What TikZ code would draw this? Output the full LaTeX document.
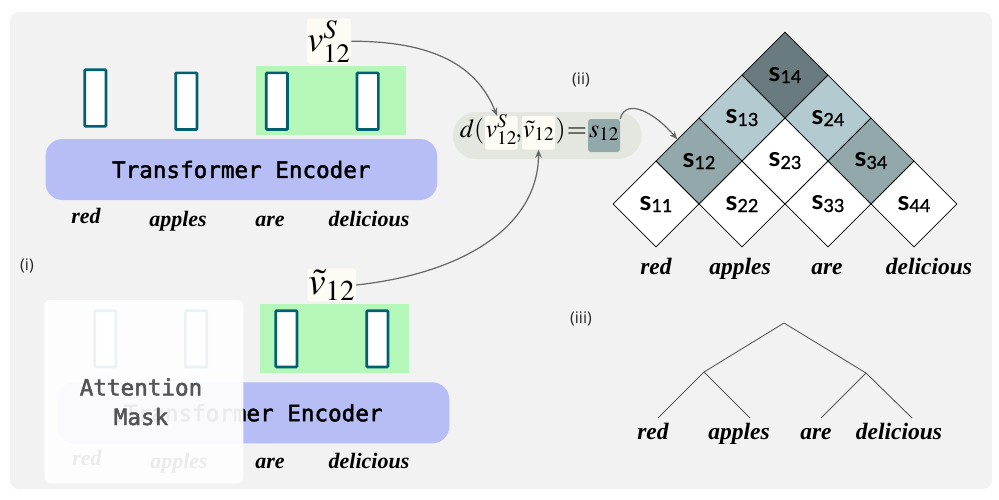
\documentclass[tikz,border=0pt]{standalone}
\usepackage{mathptmx}
\usepackage{fontspec}
\setmainfont{Liberation Serif}
\newfontfamily\monofont[FakeBold=2]{DejaVu Sans Mono}
\newfontfamily\labfont{Open Sans}
\newfontfamily\cellfont{Lato}
\newfontfamily\celldigfont[FakeBold=1.2]{Lato}
\usetikzlibrary{arrows.meta,shapes.geometric}
\definecolor{bggray}{HTML}{F2F2F2}
\definecolor{encblue}{HTML}{B6BEF5}
\definecolor{vgreen}{HTML}{B5F7B8}
\definecolor{vteal}{HTML}{006070}
\definecolor{cream}{HTML}{FDFBF3}
\definecolor{pillgray}{HTML}{E3E7DF}
\definecolor{cdark}{HTML}{6A7B7F}
\definecolor{cmid}{HTML}{93A8AB}
\definecolor{clight}{HTML}{B3CAD1}
\definecolor{arrgray}{HTML}{666666}
\definecolor{treegray}{HTML}{5A5A5A}
\newcommand\cellsij[1]{{\cellfont\fontsize{27}{27}\selectfont\bfseries s}{\celldigfont\fontsize{18}{18}\selectfont\raisebox{-2pt}{#1}}}
\tikzset{
  enc/.style={rectangle, rounded corners=17pt, fill=encblue, minimum width=391.6pt, minimum height=61pt, inner sep=0pt, font=\monofont\fontsize{22.6}{24}\selectfont},
  vecbox/.style={rectangle, draw=vteal, fill=white, line width=2.7pt, minimum width=21.3pt, minimum height=56.7pt, inner sep=0pt, rounded corners=1pt},
  greenbox/.style={rectangle, fill=vgreen, inner sep=0pt},
  word/.style={anchor=base, inner sep=0pt, font=\bfseries\itshape\fontsize{22}{24}\selectfont},
  bigword/.style={anchor=base, inner sep=0pt, font=\bfseries\itshape\fontsize{23.5}{26}\selectfont},
  veclabel/.style={rectangle, fill=cream, rounded corners=3pt, inner sep=0pt},
  hl/.style={rectangle, fill=cream, rounded corners=2pt, inner sep=0pt, anchor=base, font=\fontsize{26}{30}\selectfont},
  ftext/.style={inner sep=0pt, font=\fontsize{26}{30}\selectfont},
  cell/.style={diamond, aspect=1, draw=black, line width=0.8pt, minimum width=86pt, minimum height=86pt, inner sep=0pt},
  arr/.style={draw=arrgray, line width=1.2pt, -{Stealth[length=8pt,width=6.5pt]}},
  treeline/.style={draw=treegray, line width=0.9pt},
  partlabel/.style={inner sep=0pt, font=\labfont\fontsize{16}{18}\selectfont, text=black!85}
}
\begin{document}
\begin{tikzpicture}[x=1pt,y=-1pt]
\useasboundingbox (0,0) rectangle (999,499);
\fill[white] (0,0) rectangle (999,499);
\fill[bggray, rounded corners=9pt] (10,12) rectangle (992,489);

% ---------- top encoder ----------
\node[greenbox, minimum width=149.7pt, minimum height=69.3pt] (g1) at (330.85,100.35) {};
\node[vecbox] (t1) at (95.3,98) {};
\node[vecbox] (t2) at (186.3,101.2) {};
\node[vecbox] (t3) at (276.9,101.2) {};
\node[vecbox] (t4) at (367.7,101.2) {};
\node[enc] (enc1) at (241.3,169.5) {Transformer Encoder};
\node[word] (w1a) at (86,223) {red};
\node[word] (w1b) at (178,226.5) {apples};
\node[word] (w1c) at (270,226.5) {are};
\node[word] (w1d) at (369,226.5) {delicious};
\node[veclabel, minimum width=44.3pt, minimum height=45.7pt, font=\fontsize{36}{40}\selectfont] (vs) at (329,41.2) {$v^{S}_{12}$};

% ---------- bottom encoder ----------
\node[greenbox, minimum width=149.3pt, minimum height=68.7pt] (g2) at (334.65,338.35) {};
\node[vecbox, minimum height=56.3pt] (b1) at (105.3,338.8) {};
\node[vecbox, minimum height=56.3pt] (b2) at (196,338.8) {};
\node[vecbox, minimum height=56.3pt] (b3) at (286.3,338.8) {};
\node[vecbox, minimum height=56.3pt] (b4) at (377.3,338.8) {};
\node[enc, minimum width=392pt] (enc2) at (253.3,412.8) {Transformer Encoder};
\node[word] (w2a) at (87,465) {red};
\node[word] (w2b) at (179,468) {apples};
\node[word] (w2c) at (270,468) {are};
\node[word] (w2d) at (369,468) {delicious};
\node[rectangle, fill=white, fill opacity=0.92, rounded corners=6pt, minimum width=199pt, minimum height=183.3pt, inner sep=0pt] (mask) at (143.8,391.65) {};
\node[inner sep=0pt, align=center, text=black!67, font=\monofont\fontsize{22.6}{29.5}\selectfont, anchor=base] (masktxt) at (141,425) {Attention\\Mask};
\node[veclabel, minimum width=48.7pt, minimum height=33.4pt, font=\fontsize{39}{42}\selectfont] (vt) at (331.7,285) {$\tilde{v}_{12}$};

\node[partlabel] (pi) at (27,266) {(i)};
\node[partlabel] (pii) at (581,80) {(ii)};
\node[partlabel] (piii) at (581,319) {(iii)};

% ---------- formula ----------
\node[rectangle, fill=pillgray, rounded corners=23.5pt, minimum width=189pt, minimum height=47pt, inner sep=0pt] (pill) at (547.2,135.5) {};
\node[ftext, anchor=base east] (fd) at (484.5,137) {$d($};
\node[hl, text height=21pt, text depth=12.5pt, minimum width=32.5pt] (fv) at (501.3,137) {$v^{S}_{12}$};
\node[ftext, anchor=base] (fc) at (518.8,137) {$,$};
\node[hl, text height=21pt, text depth=12.5pt, minimum width=33pt] (ft) at (538.5,137) {$\tilde{v}_{12}$};
\node[ftext, anchor=base west] (fp) at (555.5,137) {$)$};
\node[ftext, anchor=base] (fe) at (577,137) {$=$};
\node[rectangle, fill=cmid, rounded corners=3pt, inner sep=0pt, anchor=base, text height=18pt, text depth=15pt, minimum width=32pt, font=\fontsize{26}{30}\selectfont] (fs) at (604,137) {$s_{12}$};

% ---------- chart ----------
\node[cell, fill=white] (c11) at (656,204) {\cellsij{11}};
\node[cell, fill=white] (c22) at (742,204) {\cellsij{22}};
\node[cell, fill=white] (c33) at (828,204) {\cellsij{33}};
\node[cell, fill=white] (c44) at (914,204) {\cellsij{44}};
\node[cell, fill=cmid] (c12) at (699,161) {\cellsij{12}};
\node[cell, fill=white] (c23) at (785,161) {\cellsij{23}};
\node[cell, fill=cmid] (c34) at (871,161) {\cellsij{34}};
\node[cell, fill=clight] (c13) at (742,118) {\cellsij{13}};
\node[cell, fill=clight] (c24) at (828,118) {\cellsij{24}};
\node[cell, fill=cdark] (c14) at (785,75) {\cellsij{14}};
\node[bigword] (cw1) at (656,274) {red};
\node[bigword] (cw2) at (740,274) {apples};
\node[bigword] (cw3) at (827,274) {are};
\node[bigword] (cw4) at (929,274) {delicious};

% ---------- arrows ----------
\draw[arr] (vs.east) .. controls +(90,0) and +(-18,-45) .. (fv.north -| 497,0);
\draw[arr] (vt.east) .. controls +(110,-12) and +(0,75) .. (ft.south);
\draw[arr] (fs.north east) .. controls +(6,-22) and +(-22,-26) .. (c12.north west);

% ---------- tree ----------
\coordinate (root) at (784,323);
\coordinate (tl) at (704,372);
\coordinate (tr) at (866,373);
\coordinate (l1) at (658,418);
\coordinate (l2) at (750,418);
\coordinate (l3) at (821,418);
\coordinate (l4) at (912,418);
\draw[treeline] (root) -- (tl) -- (l1);
\draw[treeline] (tl) -- (l2);
\draw[treeline] (root) -- (tr) -- (l3);
\draw[treeline] (tr) -- (l4);
\node[bigword] (tw1) at (653,439) {red};
\node[bigword] (tw2) at (739,439) {apples};
\node[bigword] (tw3) at (816,439) {are};
\node[bigword] (tw4) at (899,439) {delicious};
\end{tikzpicture}
\end{document}
